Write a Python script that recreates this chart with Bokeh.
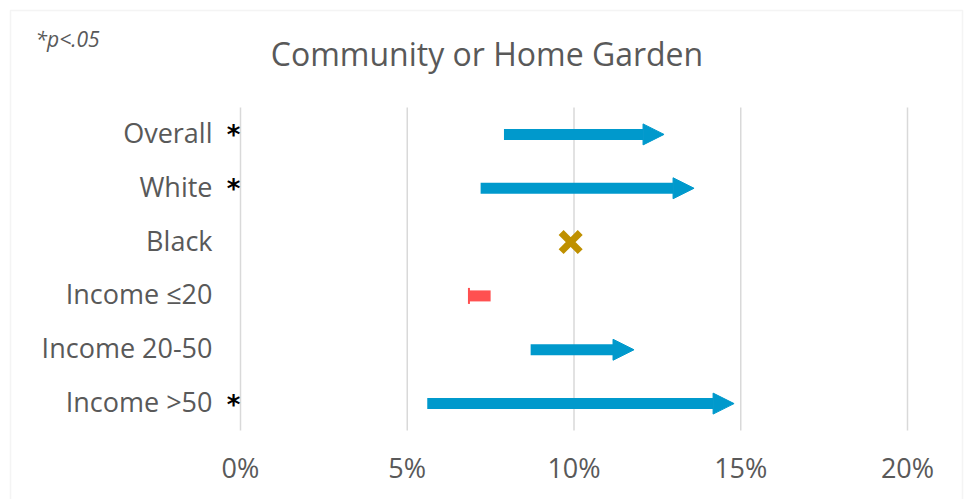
from bokeh.plotting import figure
from bokeh.models import (ColumnDataSource, Range1d, Arrow, NormalHead, TeeHead,
                          Label, BoxAnnotation)
from bokeh.core.properties import value
from bokeh.embed import file_html
from bokeh.resources import INLINE

# ---- data ----
categories = ["Overall", "White", "Black", "Income \u226420", "Income 20-50", "Income >50"]
start_pct = [7.9, 7.2, 9.9, 7.5, 8.7, 5.6]
end_pct = [12.7, 13.6, 9.9, 6.85, 11.8, 14.8]
significant = [True, True, False, False, False, True]
tick_values = [0, 5, 10, 15, 20]
tick_labels = ["0%", "5%", "10%", "15%", "20%"]
title_text = "Community or Home Garden"
note_text = "*p<.05"

# ---- style ----
GRAY = "#595959"
GRID = "#D9D9D9"
BLUE = "#0099CC"
RED = "#FF5050"
GOLD = "#BF9000"
FONT = "Open Sans"

W, H = 966, 499
rows = list(range(len(categories)))
n = len(categories)

# plot area: x 0%..20% spans px 240..907; rows fill px 107..430
px_per_pct = (907 - 240) / 20.0
x_lo = -240 / px_per_pct
x_hi = (W - 240) / px_per_pct
row_px = (430 - 107) / n
y_top = -107 / row_px - 0.5
y_bot = (H - 107) / row_px - 0.5

p = figure(width=W, height=H, output_backend="svg", toolbar_location=None,
           x_range=Range1d(x_lo, x_hi), y_range=Range1d(y_bot, y_top),
           x_axis_location=None, y_axis_location=None,
           min_border=0, background_fill_color="white", border_fill_color="white")
p.outline_line_color = None
p.grid.visible = False

# outer chart border
p.add_layout(BoxAnnotation(left=10, right=962, top=10, bottom=H + 20,
                           left_units="canvas", right_units="canvas",
                           top_units="canvas", bottom_units="canvas",
                           fill_color=None, line_color=GRID, line_width=1.5))

# vertical gridlines at the tick values
grid_top = -0.5
grid_bot = n - 0.5
p.segment(x0=tick_values, x1=tick_values, y0=[grid_top] * len(tick_values),
          y1=[grid_bot] * len(tick_values), line_color=GRID, line_width=1.5)

# x tick labels
p.text(x=tick_values, y=[grid_bot] * len(tick_values), text=tick_labels,
       y_offset=37, text_align="center", text_baseline="alphabetic",
       text_font=value(FONT), text_font_size="27px", text_color=GRAY)

# category labels
p.text(x=[0] * n, y=rows, text=categories, x_offset=-28, y_offset=-2,
       text_align="right", text_baseline="middle",
       text_font=value(FONT), text_font_size="27px", text_color=GRAY)

# arrows split by direction
up = dict(x0=[], x1=[], y=[])
down = dict(x0=[], x1=[], y=[])
same = dict(x=[], y=[])
for r, s, e in zip(rows, start_pct, end_pct):
    if e > s:
        up["x0"].append(s); up["x1"].append(e); up["y"].append(r)
    elif e < s:
        down["x0"].append(s); down["x1"].append(e); down["y"].append(r)
    else:
        same["x"].append(s); same["y"].append(r)

p.add_layout(Arrow(source=ColumnDataSource(up), x_start="x0", y_start="y", x_end="x1", y_end="y",
                   line_width=11, line_color=BLUE,
                   end=NormalHead(size=21, fill_color=BLUE, line_color=BLUE, line_width=1)))
p.add_layout(Arrow(source=ColumnDataSource(down), x_start="x0", y_start="y", x_end="x1", y_end="y",
                   line_width=11, line_color=RED,
                   end=TeeHead(size=16, line_color=RED, line_width=2)))
p.scatter(x="x", y="y", source=ColumnDataSource(same), marker="x", size=27,
          line_width=7, line_color=GOLD)

# significance asterisks
sig_rows = [r for r, s in zip(rows, significant) if s]
p.text(x=[0] * len(sig_rows), y=sig_rows, text=["*"] * len(sig_rows),
       x_offset=-7, y_offset=1, text_align="center", text_baseline="middle",
       text_font=value("DejaVu Sans"), text_font_style="bold", text_font_size="26px",
       text_color="black")

# title and note
p.add_layout(Label(x=486.5, y=53, x_units="canvas", y_units="canvas", text=title_text,
                   text_align="center", text_baseline="alphabetic", text_font=FONT,
                   text_font_size="32px", text_color=GRAY))
p.add_layout(Label(x=35, y=38.5, x_units="canvas", y_units="canvas", text=note_text,
                   text_align="left", text_baseline="alphabetic", text_font=FONT,
                   text_font_style="italic", text_font_size="21px", text_color=GRAY))

open("out.html", "w").write(file_html(p, INLINE))
